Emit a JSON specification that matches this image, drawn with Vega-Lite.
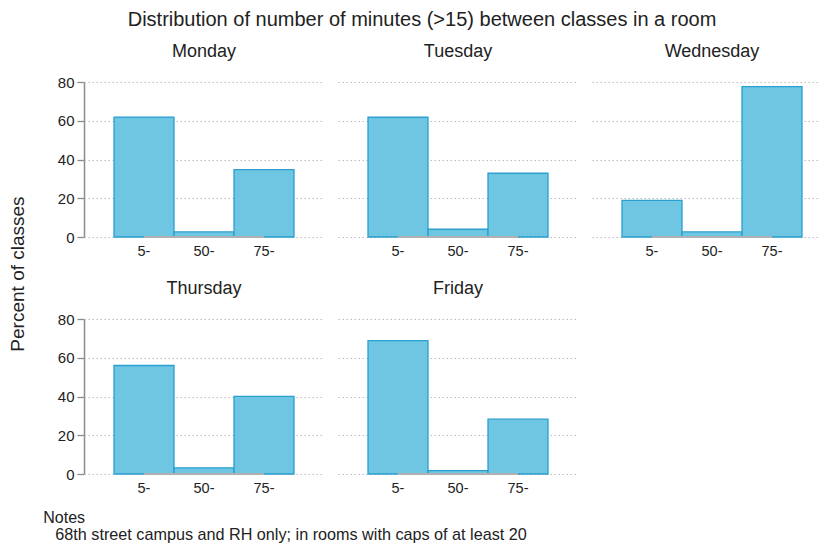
{
  "$schema": "https://vega.github.io/schema/vega-lite/v6.json",
  "padding": {"left": 8, "top": 10, "right": 0, "bottom": 0},
  "background": "white",
  "config": {
    "font": "Liberation Sans",
    "view": {"stroke": null}
  },
  "title": {
    "text": "Distribution of number of minutes (>15) between classes in a room",
    "fontSize": 20,
    "fontWeight": "normal",
    "color": "#222222",
    "anchor": "middle",
    "offset": 13,
    "dx": 2
  },
  "spacing": 15,
  "hconcat": [
    {
      "data": {"values": [{"t": "Percent of classes"}]},
      "width": 20,
      "height": 384,
      "mark": {"type": "text", "angle": 270, "fontSize": 19, "color": "#222222"},
      "encoding": {"text": {"field": "t", "type": "nominal"}}
    },
    {
      "data": {
        "values": [
          {"day": "Monday", "bin": "5-", "percent": 61.9},
          {"day": "Monday", "bin": "50-", "percent": 2.6},
          {"day": "Monday", "bin": "75-", "percent": 34.8},
          {"day": "Tuesday", "bin": "5-", "percent": 61.8},
          {"day": "Tuesday", "bin": "50-", "percent": 4.0},
          {"day": "Tuesday", "bin": "75-", "percent": 32.9},
          {"day": "Wednesday", "bin": "5-", "percent": 18.9},
          {"day": "Wednesday", "bin": "50-", "percent": 2.6},
          {"day": "Wednesday", "bin": "75-", "percent": 77.6},
          {"day": "Thursday", "bin": "5-", "percent": 56.0},
          {"day": "Thursday", "bin": "50-", "percent": 3.2},
          {"day": "Thursday", "bin": "75-", "percent": 40.1},
          {"day": "Friday", "bin": "5-", "percent": 68.8},
          {"day": "Friday", "bin": "50-", "percent": 1.7},
          {"day": "Friday", "bin": "75-", "percent": 28.3}
        ]
      },
      "title": {
        "text": "Notes",
        "subtitle": "\u280068th street campus and RH only; in rooms with caps of at least 20",
        "orient": "bottom",
        "anchor": "start",
        "fontSize": 16,
        "fontWeight": "normal",
        "color": "#222222",
        "subtitleFontSize": 16.2,
        "subtitleColor": "#222222",
        "subtitlePadding": 1,
        "offset": 15,
        "dx": -14
      },
      "facet": {
        "field": "day",
        "type": "nominal",
        "sort": ["Monday", "Tuesday", "Wednesday", "Thursday", "Friday"],
        "header": {
          "title": null,
          "labelFontSize": 18,
          "labelColor": "#222222",
          "labelPadding": 21
        }
      },
      "columns": 3,
      "spacing": {"column": 14, "row": 22},
      "resolve": {"scale": {"x": "independent"}},
      "spec": {
        "width": 240,
        "height": 155,
        "encoding": {
          "x": {
            "field": "bin",
            "type": "ordinal",
            "sort": ["5-", "50-", "75-"],
            "scale": {"paddingInner": 0, "paddingOuter": 0.5},
            "axis": {
              "title": null,
              "labelAngle": 0,
              "domain": false,
              "ticks": false,
              "labelPadding": 7,
              "labelFontSize": 14.5,
              "labelColor": "#222222"
            }
          },
          "y": {
            "field": "percent",
            "type": "quantitative",
            "scale": {"domain": [0, 80], "nice": false},
            "axis": {
              "title": null,
              "values": [0, 20, 40, 60, 80],
              "labelFontSize": 15,
              "labelColor": "#222222",
              "labelPadding": 3,
              "tickSize": 7,
              "tickColor": "#8a8a8a",
              "tickWidth": 1.3,
              "domainColor": "#8a8a8a",
              "domainWidth": 1.5,
              "grid": true,
              "gridColor": "#bdbdbd",
              "gridDash": [1.5, 2.5],
              "gridWidth": 1
            }
          }
        },
        "layer": [
          {
            "mark": {"type": "bar", "fill": "#6ec6e2", "stroke": "#2a9fd0", "strokeWidth": 1.3}
          },
          {
            "mark": {"type": "rule", "color": "#b0b0b0", "strokeWidth": 1.3},
            "encoding": {
              "x": {"datum": "5-"},
              "x2": {"datum": "75-"},
              "y": {"datum": 0}
            }
          }
        ]
      }
    }
  ]
}
